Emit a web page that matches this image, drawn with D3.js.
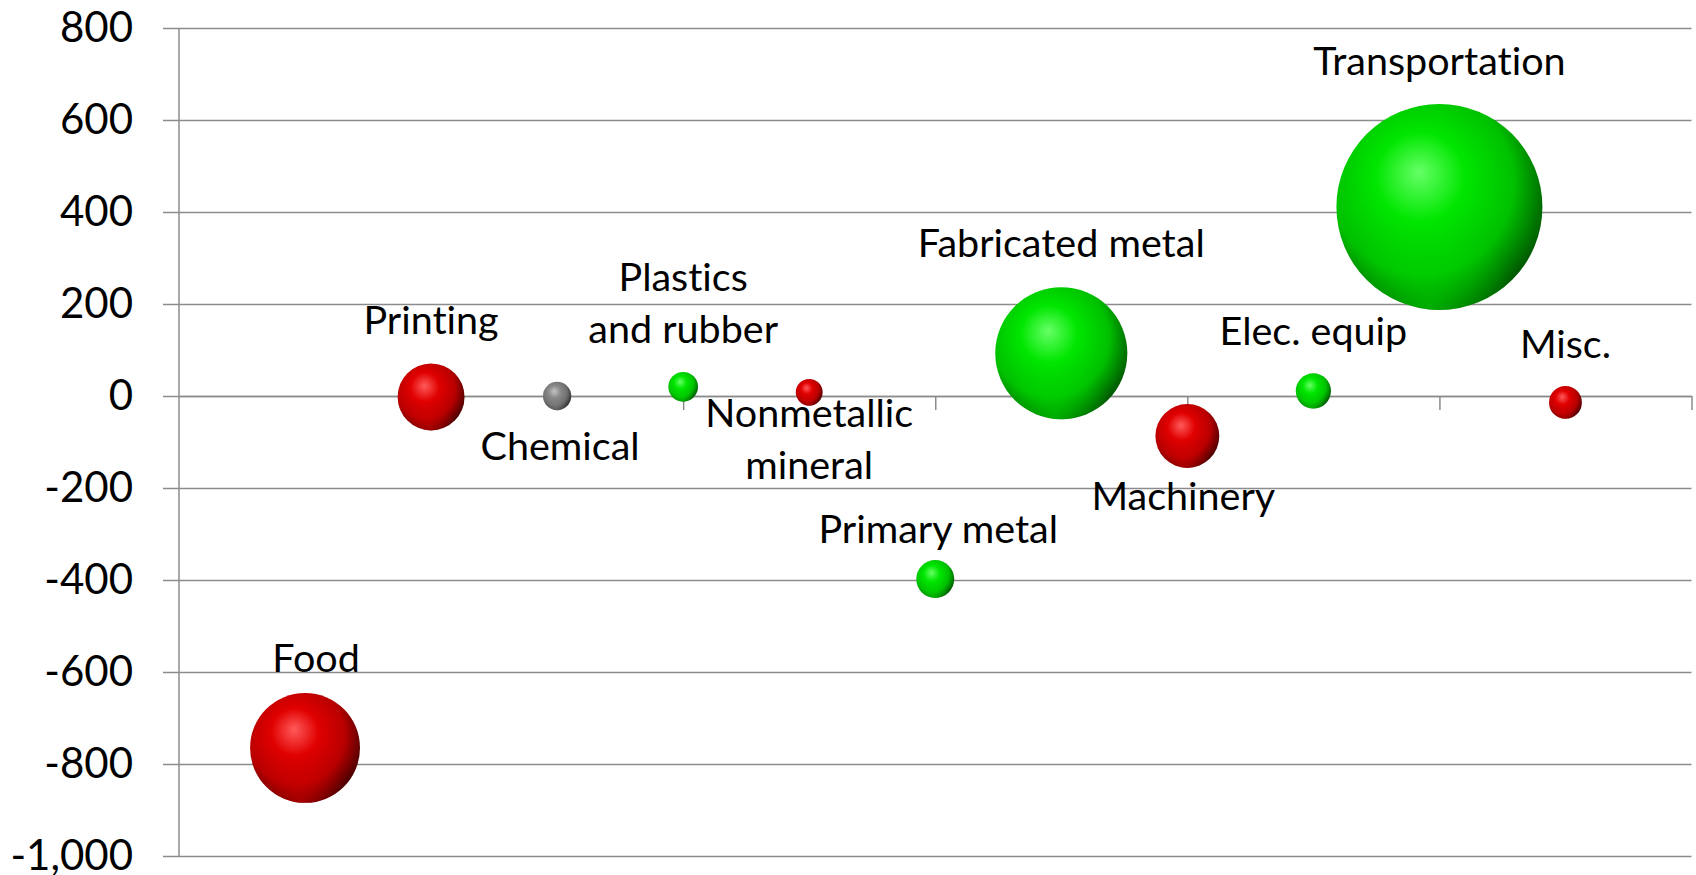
<!DOCTYPE html>
<html>
<head>
<meta charset="utf-8">
<script src="https://cdn.jsdelivr.net/npm/d3@7"></script>
<style>
  body { margin: 0; background: #fff; }
  svg { display: block; font-family: Lato, "Open Sans", sans-serif; font-variant-ligatures: none; }
</style>
</head>
<body>
<div id="container"></div>
<script>
// industries in the order they sit along the x axis (x = 1..11)
const industries = ["Food", "Printing", "Chemical", "Plastics\nand rubber", "Nonmetallic\nmineral",
    "Primary metal", "Fabricated metal", "Machinery", "Elec. equip", "Transportation", "Misc."];
const xValues = [1, 2, 3, 4, 5, 6, 7, 8, 9, 10, 11];
const yValues = [-765, -2, 0, 20, 8, -398, 93, -87, 11, 411, -14];
const bubbleSizes = [302, 112, 20, 22, 18, 36, 436, 102, 31, 1061, 27];
// colour group of each bubble
const groups = ["loss", "loss", "flat", "gain", "loss", "gain", "gain", "loss", "gain", "gain", "loss"];

const yTicks = [-1000, -800, -600, -400, -200, 0, 200, 400, 600, 800];
const xTicks = [2, 4, 6, 8, 10, 12];

// label placement (pixels from bubble centre to the first baseline)
const labelOffsets = [[11, -76], [0, -63], [3, 64], [0, -96], [0, 35], [3, -36],
    [0, -96], [-4, 74], [0, -46], [0, -132], [0, -44]];

const width = 1696;
const height = 875;
const plotLeft = 179, plotRight = 1691.5, plotTop = 28, plotBottom = 856;

const xScale = d3.scaleLinear().domain([0, 12]).range([plotLeft, plotRight]);
const yScale = d3.scaleLinear().domain([-1000, 800]).range([plotBottom, plotTop]);
const rScale = d3.scaleSqrt().domain([0, 1061]).range([0, 103]);

const fmt = d3.formatLocale({decimal: ".", thousands: ",", grouping: [3], currency: ["", ""], minus: "-"}).format(",");

const svg = d3.select("#container")
    .append("svg")
    .attr("width", width)
    .attr("height", height);

// sphere shading, one gradient per colour group
const shades = {
    loss: ["#ff5a5a", "#e00000", "#b80000", "#4d0000"],
    gain: ["#66ff66", "#00e600", "#00c000", "#005a00"],
    flat: ["#c4c4c4", "#8a8a8a", "#6e6e6e", "#2e2e2e"]
};
const defs = svg.append("defs");
Object.entries(shades).forEach(([key, c]) => {
    const g = defs.append("radialGradient")
        .attr("id", "ball-" + key)
        .attr("cx", "42%").attr("cy", "40%").attr("r", "62%")
        .attr("fx", "40%").attr("fy", "33%");
    g.append("stop").attr("offset", "0%").attr("stop-color", c[0]);
    g.append("stop").attr("offset", "35%").attr("stop-color", c[1]);
    g.append("stop").attr("offset", "72%").attr("stop-color", c[2]);
    g.append("stop").attr("offset", "100%").attr("stop-color", c[3]);
    // soft reflected light on the lower rim
    const rim = defs.append("radialGradient")
        .attr("id", "rim-" + key)
        .attr("cx", "45%").attr("cy", "100%").attr("r", "45%");
    rim.append("stop").attr("offset", "0%").attr("stop-color", c[1]).attr("stop-opacity", 0.55);
    rim.append("stop").attr("offset", "100%").attr("stop-color", c[1]).attr("stop-opacity", 0);
});

// horizontal gridlines and y labels
const yAxis = svg.append("g")
    .attr("transform", `translate(${plotRight},0)`)
    .call(d3.axisLeft(yScale).tickValues(yTicks).tickSize(plotRight - 163).tickPadding(30).tickFormat(fmt));
yAxis.select(".domain").remove();
yAxis.selectAll("line").attr("stroke", "#8c8c8c").attr("stroke-width", 1.5);
yAxis.selectAll("text").attr("font-size", 42).attr("fill", "#000").attr("font-family", "Lato, sans-serif");

// vertical axis line
svg.append("line")
    .attr("x1", plotLeft).attr("x2", plotLeft)
    .attr("y1", plotTop).attr("y2", plotBottom)
    .attr("stroke", "#8c8c8c").attr("stroke-width", 1.5);

// x axis crossing at zero, ticks only
const xAxis = svg.append("g")
    .attr("transform", `translate(0,${yScale(0)})`)
    .call(d3.axisBottom(xScale).tickValues(xTicks).tickSize(14).tickSizeOuter(0).tickFormat(""));
xAxis.select(".domain").attr("stroke", "#8c8c8c").attr("stroke-width", 1.5);
xAxis.selectAll("line").attr("stroke", "#8c8c8c").attr("stroke-width", 1.5);

// bubbles
const data = industries.map((name, i) => ({
    name, x: xValues[i], y: yValues[i], size: bubbleSizes[i], group: groups[i], off: labelOffsets[i]
}));

const balls = svg.append("g").selectAll("g")
    .data(data)
    .join("g")
    .attr("transform", d => `translate(${xScale(d.x)},${yScale(d.y)})`);
balls.append("circle")
    .attr("r", d => rScale(d.size))
    .attr("fill", d => `url(#ball-${d.group})`);
balls.append("circle")
    .attr("r", d => rScale(d.size))
    .attr("fill", d => `url(#rim-${d.group})`);

// data labels
const labels = svg.append("g").selectAll("text")
    .data(data)
    .join("text")
    .attr("x", d => xScale(d.x) + d.off[0])
    .attr("y", d => yScale(d.y) + d.off[1])
    .attr("text-anchor", "middle")
    .attr("font-size", 39.5)
    .attr("fill", "#000");
labels.each(function(d) {
    d.name.split("\n").forEach((line, j) => {
        d3.select(this).append("tspan")
            .attr("x", xScale(d.x) + d.off[0])
            .attr("dy", j === 0 ? 0 : 52)
            .text(line);
    });
});
</script>
</body>
</html>
